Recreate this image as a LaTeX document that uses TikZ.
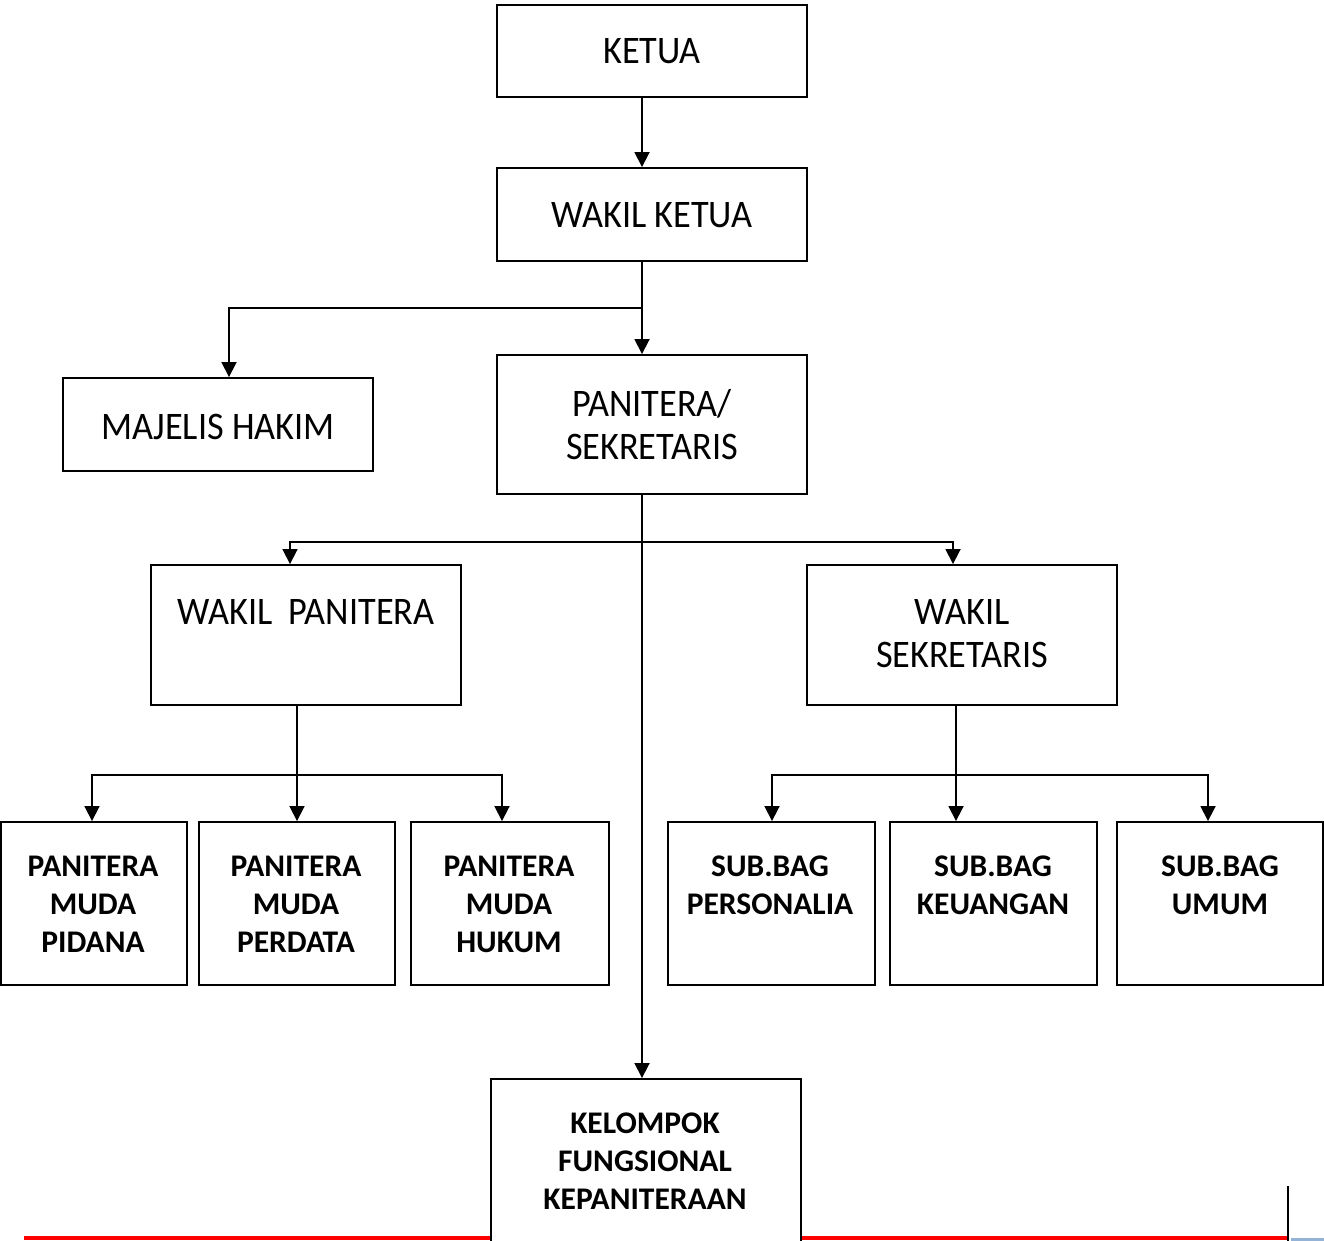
\documentclass[tikz,border=0pt]{standalone}
\usepackage{fontspec}
\setmainfont{Carlito}
\newfontfamily\regfont[FakeStretch=0.93]{Carlito}
\usetikzlibrary{arrows.meta}
\definecolor{markblue}{RGB}{149,179,215}
\begin{document}
\begin{tikzpicture}[x=1pt,y=-1pt,
  box/.style={draw,line width=1.9pt,fill=white,inner sep=0pt},
  txt/.style={font=\regfont\fontsize{39}{43}\selectfont,align=center,inner sep=0pt},
  btxt/.style={font=\fontsize{31.5}{38}\selectfont\bfseries,align=center,inner sep=0pt},
  conn/.style={line width=1.8pt},
  arr/.style={line width=1.8pt,-{Triangle[length=15pt,width=15pt]}}]
\useasboundingbox (0,0) rectangle (1324,1241);
\clip (0,0) rectangle (1324,1241);
% bottom page marks
\draw[red,line width=3.5pt] (24,1238) -- (1288,1238);
\draw[markblue,line width=3pt] (1291,1239) -- (1324,1239);
\draw[line width=1.5pt] (1288,1186) -- (1288,1241);
% boxes
\node[box,minimum width=310pt,minimum height=92pt] (ketua) at (652,51) {};
\node[box,minimum width=310pt,minimum height=93pt] (wketua) at (652,214.5) {};
\node[box,minimum width=310pt,minimum height=93pt] (majelis) at (218,424.5) {};
\node[box,minimum width=310pt,minimum height=139pt] (panit) at (652,424.5) {};
\node[box,minimum width=310pt,minimum height=140pt] (wpan) at (306,635) {};
\node[box,minimum width=310pt,minimum height=140pt] (wsek) at (962,635) {};
\node[box,minimum width=186pt,minimum height=163pt] (pmp) at (94,903.5) {};
\node[box,minimum width=196pt,minimum height=163pt] (pmpd) at (297,903.5) {};
\node[box,minimum width=198pt,minimum height=163pt] (pmh) at (510,903.5) {};
\node[box,minimum width=207pt,minimum height=163pt] (sbp) at (771.5,903.5) {};
\node[box,minimum width=207pt,minimum height=163pt] (sbk) at (993.5,903.5) {};
\node[box,minimum width=206pt,minimum height=163pt] (sbu) at (1220,903.5) {};
\node[box,minimum width=310pt,minimum height=200pt] (kel) at (646,1179) {};
% texts
\node[txt] (tketua) at (652,51) {KETUA};
\node[txt] (twketua) at (652,215) {WAKIL KETUA};
\node[txt] (tmajelis) at (218,427) {MAJELIS HAKIM};
\node[txt] (tpanit) at (652,425) {PANITERA/\\SEKRETARIS};
\node[txt] (twpan) at (306,612) {WAKIL\ \ PANITERA};
\node[txt] (twsek) at (962,634) {WAKIL\\SEKRETARIS};
\node[btxt] (tpmp) at (93,904) {PANITERA\\MUDA\\PIDANA};
\node[btxt] (tpmpd) at (296,904) {PANITERA\\MUDA\\PERDATA};
\node[btxt] (tpmh) at (509,904) {PANITERA\\MUDA\\HUKUM};
\node[btxt] (tsbp) at (770,885) {SUB.BAG\\PERSONALIA};
\node[btxt] (tsbk) at (993,885) {SUB.BAG\\KEUANGAN};
\node[btxt] (tsbu) at (1220,885) {SUB.BAG\\UMUM};
\node[btxt] (tkel) at (645,1161) {KELOMPOK\\FUNGSIONAL\\KEPANITERAAN};
% junction coordinates
\coordinate (xa) at (642,308);
\coordinate (jm) at (229,308);
\coordinate (xb) at (642,542);
\coordinate (jl) at (290,542);
\coordinate (jr) at (953,542);
\coordinate (pj) at (297,775);
\coordinate (pl) at (92,775);
\coordinate (pr) at (502,775);
\coordinate (sj) at (956,775);
\coordinate (sl) at (772,775);
\coordinate (sr) at (1208,775);
% connectors
\draw[arr] (ketua.south -| xa) -- (wketua.north -| xa);
\draw[conn] (wketua.south -| xa) -- (xa);
\draw[arr] (xa) -- (jm) -- (majelis.north -| jm);
\draw[arr] (xa) -- (panit.north -| xa);
\draw[conn] (panit.south -| xb) -- (xb);
\draw[arr] (xb) -- (jl) -- (wpan.north -| jl);
\draw[arr] (xb) -- (jr) -- (wsek.north -| jr);
\draw[arr] (xb) -- (kel.north -| xb);
\draw[conn] (wpan.south -| pj) -- (pj);
\draw[arr] (pj) -- (pl) -- (pmp.north -| pl);
\draw[arr] (pj) -- (pmpd.north -| pj);
\draw[arr] (pj) -- (pr) -- (pmh.north -| pr);
\draw[conn] (wsek.south -| sj) -- (sj);
\draw[arr] (sj) -- (sl) -- (sbp.north -| sl);
\draw[arr] (sj) -- (sbk.north -| sj);
\draw[arr] (sj) -- (sr) -- (sbu.north -| sr);
\end{tikzpicture}
\end{document}
